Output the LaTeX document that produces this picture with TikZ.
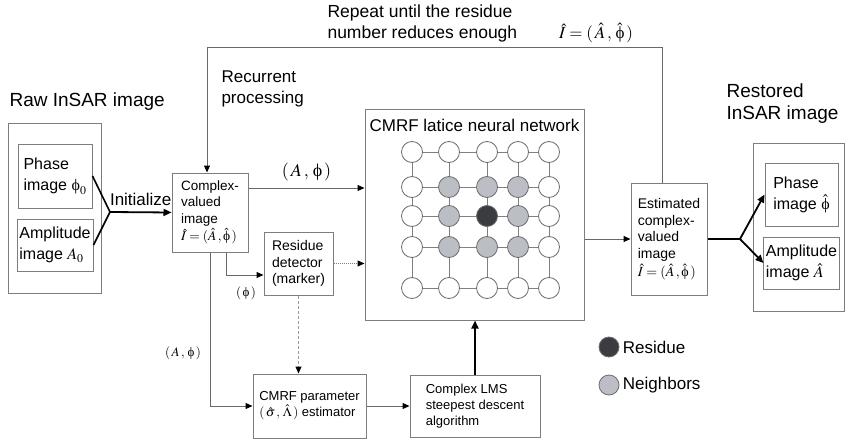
\documentclass[tikz,border=0pt]{standalone}
\usepackage{mathptmx}
\usepackage[no-math]{fontspec}
\setmainfont{Liberation Sans}
\newfontfamily\serifgr{Liberation Serif}
\usetikzlibrary{arrows.meta, positioning}
\definecolor{linegray}{RGB}{105,105,105}
\definecolor{boxgray}{RGB}{125,125,125}
\definecolor{nbgray}{RGB}{188,190,198}
\definecolor{resdark}{RGB}{58,60,64}
\newcommand{\fsz}[2]{\fontsize{#1}{#2}\selectfont}
\newcommand{\uphi}{\mbox{\serifgr ϕ}}
\tikzset{
  box/.style={draw=boxgray, fill=white, line width=1pt, align=left, inner sep=2pt},
  arr/.style={draw=linegray, line width=1pt, -{Triangle[length=7pt,width=6pt,color=black]}},
  bigarr/.style={draw=black, line width=1.8pt, -{Triangle[length=8pt,width=7pt]}},
  link/.style={draw=gray, line width=1pt},
  cell/.style={circle, draw=gray!85!black, fill=white, line width=0.8pt, minimum size=21pt, inner sep=0pt},
}
\begin{document}
\begin{tikzpicture}[x=1pt, y=-1pt,
    sel22/.style={fill=nbgray}, sel23/.style={fill=nbgray}, sel24/.style={fill=nbgray},
    sel32/.style={fill=nbgray}, sel33/.style={fill=resdark}, sel34/.style={fill=nbgray},
    sel42/.style={fill=nbgray}, sel43/.style={fill=nbgray}, sel44/.style={fill=nbgray}]
    \useasboundingbox (0,0) rectangle (845,441);

    % left: raw image
    \node[anchor=west, font=\fsz{19}{22}] (rawlbl) at (6,102) {Raw InSAR image};
    \node[box, minimum width=93pt, minimum height=170pt] (raw) at (54.5,208) {};
    \node[box, minimum width=74pt, minimum height=64pt, font=\fsz{16}{21}] (phase0) at (55,176) {Phase\\image $\uphi_0$};
    \node[box, minimum width=76pt, minimum height=52pt, font=\fsz{16}{21}] (amp0) at (55,245) {Amplitude\\image $A_0$};
    \coordinate (fork1) at (110,212);
    \draw[black, line width=1.6pt] (phase0.east) -- (fork1) (amp0.east) -- (fork1);

    % complex-valued image
    \node[box, minimum width=76pt, minimum height=79pt, font=\fsz{13.5}{16.5}] (complex) at (210,212.5)
        {Complex-\\valued\\image\\[1pt]$\hat{I}=(\hat{A}\,,\hat{\uphi}\,)$};
    \draw[bigarr] (fork1) -- node[above=2pt, font=\fsz{17}{20}] {Initialize} (complex.west);

    % residue detector and estimators
    \node[box, minimum width=69pt, minimum height=63pt, font=\fsz{14}{16.5}] (resid) at (298.5,263.5)
        {Residue\\detector\\(marker)};
    \node[box, minimum width=113pt, minimum height=64pt, font=\fsz{13}{16}] (param) at (309.5,406)
        {CMRF parameter\\$(\,\hat{\sigma}\,,\,\hat{\Lambda}\,)$ estimator};
    \node[box, minimum width=130pt, minimum height=62pt, font=\fsz{13}{16}] (lms) at (475,406)
        {Complex LMS\\steepest descent\\algorithm};

    % CMRF lattice network
    \node[box, minimum width=219pt, minimum height=210pt] (cmrf) at (474.5,215) {};
    \node[font=\fsz{17}{20}] (cmrflbl) at (474.5,125) {CMRF latice neural network};
    \foreach \xx [count=\cc] in {412,449,487,518,549} {
        \foreach \yy [count=\rr] in {152,187,216,247,288} {
            \node[cell, sel\rr\cc/.try] (n\rr\cc) at (\xx,\yy) {};
        }
    }
    \foreach \rr in {1,...,5} {
        \foreach \cc [evaluate=\cc as \dd using int(\cc+1)] in {1,...,4} {
            \draw[link] (n\rr\cc) -- (n\rr\dd);
            \draw[link] (n\cc\rr) -- (n\dd\rr);
        }
    }

    % estimated image
    \node[box, minimum width=76pt, minimum height=112pt, font=\fsz{14}{16.8}] (est) at (669,239)
        {Estimated\\complex-\\valued\\image\\[1pt]$\hat{I}=(\hat{A}\,,\hat{\uphi}\,)$};

    % right: restored image
    \node[anchor=west, align=left, font=\fsz{19}{22}] (reslbl) at (723,104) {Restored\\InSAR image};
    \node[box, minimum width=91pt, minimum height=168pt] (rest) at (798.5,227) {};
    \node[box, minimum width=73pt, minimum height=63pt, font=\fsz{16}{21}] (phase1) at (801.5,194.5) {Phase\\image $\hat{\uphi}$};
    \node[box, minimum width=73pt, minimum height=52pt, font=\fsz{16}{21}] (amp1) at (801.5,263) {Amplitude\\image $\hat{A}$};
    \coordinate (fork2) at (740,239);
    \draw[black, line width=1.6pt] (est.east) -- (fork2);
    \draw[bigarr] (fork2) -- (phase1.west);
    \draw[bigarr] (fork2) -- (amp1.west);

    % connectors
    \coordinate (ap) at ([yshift=24.5pt]complex.east);
    \draw[arr] (ap) -- node[above=3pt, font=\fsz{18}{20}] {$(\,A\,,\,\uphi\,)$} (ap -| cmrf.west);
    \draw[arr, densely dotted, draw=gray] (resid.east) -- (resid.east -| cmrf.west);
    \coordinate (phiL) at (226,275);
    \draw[arr] (complex.south -| phiL) -- (phiL) -- (phiL -| resid.west);
    \node[font=\fsz{13}{15}] (philbl) at (246,293) {$(\,\uphi\,)$};
    \draw[arr] (complex.south) |- (param.west);
    \node[font=\fsz{13}{15}] (aplbl) at (183,353) {$(\,A\,,\,\uphi\,)$};
    \draw[arr, densely dashed, draw=gray!80] (resid.south) -- (resid.south |- param.north);
    \draw[arr] (param.east) -- (lms.west);
    \draw[bigarr, line width=2.4pt] (lms.north) -- (lms.north |- cmrf.south);
    \draw[arr] (est.west -| cmrf.east) -- (est.west);

    % recurrent loop
    \coordinate (loopL) at (207,48);
    \coordinate (loopR) at (662,48);
    \draw[arr] (est.north -| loopR) -- (loopR) -- (loopL) -- (complex.north -| loopL);
    \node[anchor=west, align=left, font=\fsz{17.5}{21}] (replbl) at (324,23) {Repeat until the residue\\number reduces enough};
    \node[font=\fsz{17}{20}] (ihat) at (596,33) {$\hat{I}=(\,\hat{A}\,,\,\hat{\uphi}\,)$};
    \node[anchor=west, align=left, font=\fsz{17}{21}] (reclbl) at (218,89) {Recurrent\\processing};

    % legend
    \node[cell, fill=resdark, minimum size=20pt] (legres) at (609,347) {};
    \node[anchor=west, font=\fsz{17}{20}] (legreslbl) at (legres.east) {Residue};
    \node[cell, fill=nbgray, minimum size=20pt] (legnb) at (609,385) {};
    \node[anchor=west, font=\fsz{17}{20}] (legnblbl) at (legnb.east) {Neighbors};
\end{tikzpicture}
\end{document}
